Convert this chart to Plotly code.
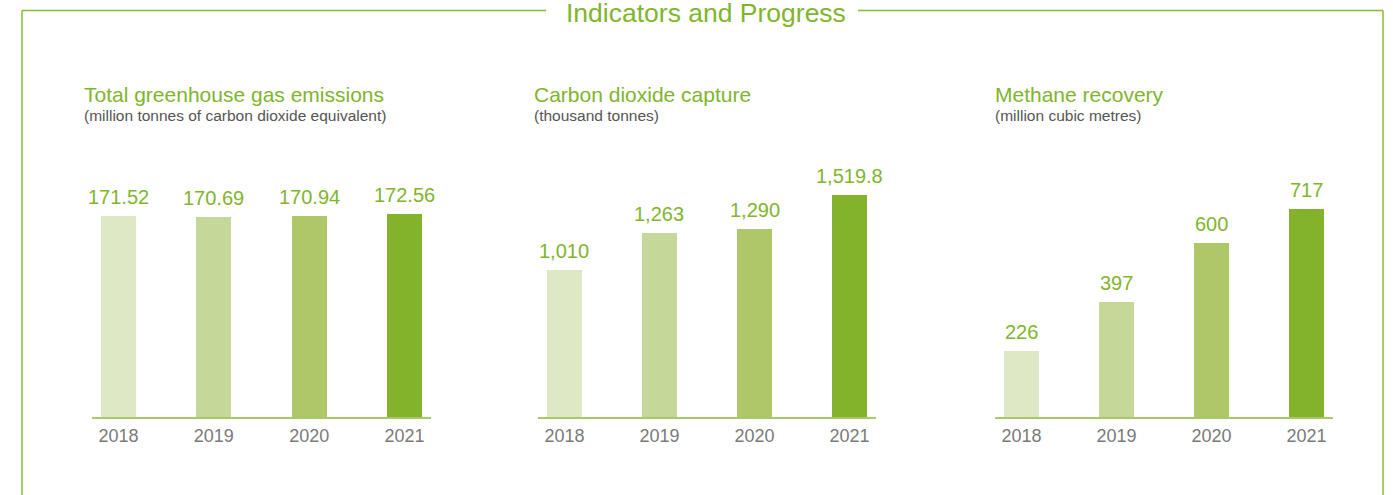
import plotly.graph_objects as go

# ---- data ----
years = ["2018", "2019", "2020", "2021"]
ghg_values = [171.52, 170.69, 170.94, 172.56]
ghg_labels = ["171.52", "170.69", "170.94", "172.56"]
co2_values = [1010, 1263, 1290, 1519.8]
co2_labels = ["1,010", "1,263", "1,290", "1,519.8"]
ch4_values = [226, 397, 600, 717]
ch4_labels = ["226", "397", "600", "717"]

panel_titles = ["Total greenhouse gas emissions", "Carbon dioxide capture", "Methane recovery"]
panel_units = ["(million tonnes of carbon dioxide equivalent)", "(thousand tonnes)", "(million cubic metres)"]
main_title = "Indicators and Progress"

bar_colors = ["#dfe8c4", "#c6d899", "#aec869", "#83b32a"]
GREEN = "#80b52c"
FONT = "Arial, Liberation Sans, sans-serif"

W, H = 1393, 495

def px(x):
    return x / W

def py(y):
    return 1 - y / H

panels = [
    (ghg_values, ghg_labels, (92, 431), 214.6, 82),
    (co2_values, co2_labels, (538, 876), 1726, 532),
    (ch4_values, ch4_labels, (995, 1333), 869, 993),
]

fig = go.Figure()
annotations = []
layout_axes = {}
for i, (vals, labels, (x0, x1), ymax, title_x) in enumerate(panels):
    n = "" if i == 0 else str(i + 1)
    fig.add_trace(go.Bar(
        x=years, y=vals, marker=dict(color=bar_colors, line=dict(width=0)),
        width=0.367, xaxis="x" + n, yaxis="y" + n, showlegend=False,
        hoverinfo="x+y",
    ))
    layout_axes["xaxis" + n] = dict(
        domain=[px(x0), px(x1)], anchor="y" + n, type="category",
        range=[-0.278, 3.278], showgrid=False, zeroline=False,
        showline=True, linecolor="#a8c968", linewidth=1.5,
        ticks="", ticklabelstandoff=2,
        tickfont=dict(family=FONT, size=18, color="#7a7a7a"),
        fixedrange=True,
    )
    layout_axes["yaxis" + n] = dict(
        domain=[py(417), py(165)], anchor="x" + n, range=[0, ymax],
        visible=False, fixedrange=True,
    )
    for k, (v, lab) in enumerate(zip(vals, labels)):
        annotations.append(dict(
            x=k, y=v, xref="x" + n, yref="y" + n, text=lab, showarrow=False,
            xanchor="center", yanchor="bottom", yshift=6,
            font=dict(family=FONT, size=20, color=GREEN),
        ))
    annotations.append(dict(
        x=px(title_x), y=py(94), xref="paper", yref="paper", text=panel_titles[i],
        showarrow=False, xanchor="left", yanchor="middle",
        font=dict(family=FONT, size=21, color=GREEN),
    ))
    annotations.append(dict(
        x=px(title_x), y=py(116), xref="paper", yref="paper", text=panel_units[i],
        showarrow=False, xanchor="left", yanchor="middle",
        font=dict(family=FONT, size=15.5, color="#555555"),
    ))

annotations.append(dict(
    x=px(705.5), y=py(12.5), xref="paper", yref="paper", text=main_title,
    showarrow=False, xanchor="center", yanchor="middle",
    font=dict(family=FONT, size=26.5, color=GREEN),
))

line = dict(color="#86bb35", width=1.5)
shapes = [
    dict(type="line", xref="paper", yref="paper", x0=px(22), x1=px(546), y0=py(10.5), y1=py(10.5), line=line),
    dict(type="line", xref="paper", yref="paper", x0=px(858), x1=px(1383), y0=py(10.5), y1=py(10.5), line=line),
    dict(type="line", xref="paper", yref="paper", x0=px(22), x1=px(22), y0=py(10.5), y1=py(520), line=line),
    dict(type="line", xref="paper", yref="paper", x0=px(1383), x1=px(1383), y0=py(10.5), y1=py(520), line=line),
]

fig.update_layout(
    width=W, height=H, margin=dict(l=0, r=0, t=0, b=0),
    paper_bgcolor="white", plot_bgcolor="white",
    annotations=annotations, shapes=shapes, bargap=0,
    font=dict(family=FONT),
    **layout_axes,
)

fig.write_html(
    "out.html",
    config={"displayModeBar": False},
    post_script="document.body.style.margin='0';document.body.style.overflow='hidden';",
)
